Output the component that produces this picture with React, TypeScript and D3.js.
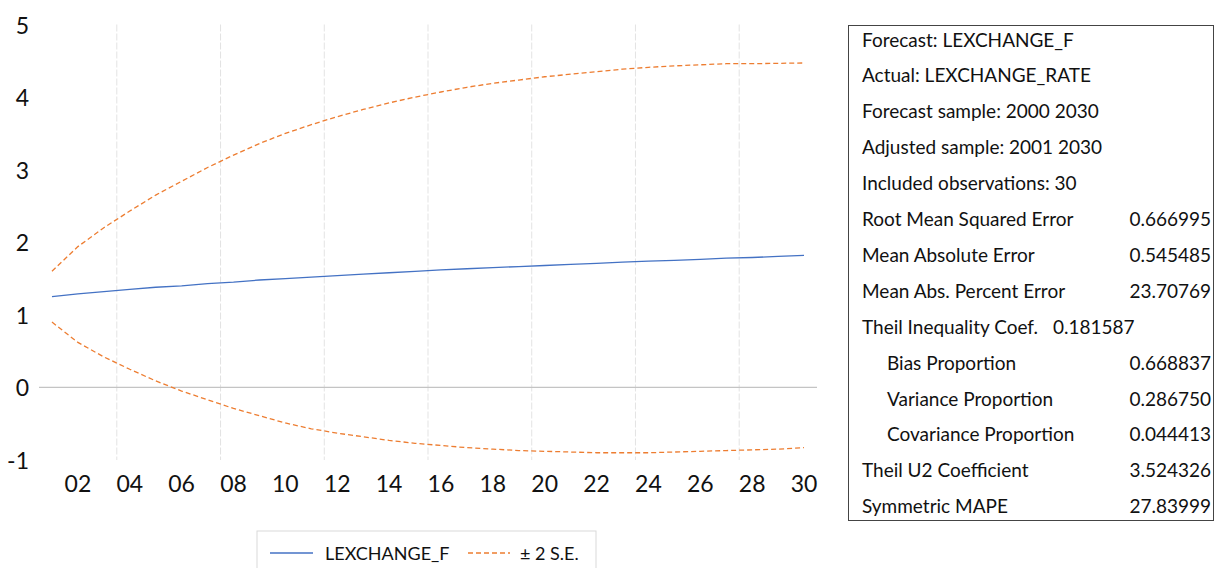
import React from 'react';
import * as d3 from 'd3';

// forecast years (2001 .. 2030), labelled every second year
const YEARS = [
  '2001', '2002', '2003', '2004', '2005', '2006', '2007', '2008', '2009', '2010',
  '2011', '2012', '2013', '2014', '2015', '2016', '2017', '2018', '2019', '2020',
  '2021', '2022', '2023', '2024', '2025', '2026', '2027', '2028', '2029', '2030',
];

const FORECAST = [
  1.25, 1.29, 1.32, 1.35, 1.38, 1.40, 1.43, 1.45, 1.48, 1.50,
  1.52, 1.54, 1.56, 1.58, 1.60, 1.62, 1.635, 1.65, 1.665, 1.68,
  1.695, 1.71, 1.725, 1.74, 1.75, 1.765, 1.78, 1.79, 1.805, 1.82,
];

const UPPER = [
  1.60, 1.94, 2.20, 2.43, 2.65, 2.84, 3.03, 3.20, 3.36, 3.50,
  3.62, 3.73, 3.83, 3.92, 4.00, 4.07, 4.135, 4.19, 4.235, 4.28,
  4.315, 4.35, 4.385, 4.41, 4.43, 4.445, 4.46, 4.46, 4.465, 4.47,
];

const LOWER = [
  0.90, 0.62, 0.42, 0.25, 0.09, -0.05, -0.17, -0.29, -0.39, -0.49,
  -0.57, -0.63, -0.68, -0.73, -0.77, -0.80, -0.83, -0.85, -0.87, -0.88,
  -0.89, -0.90, -0.90, -0.90, -0.89, -0.88, -0.87, -0.86, -0.85, -0.83,
];

const Y_TICKS = [-1, 0, 1, 2, 3, 4, 5];

const STAT_LABELS = [
  'Forecast: LEXCHANGE_F',
  'Actual: LEXCHANGE_RATE',
  'Forecast sample: 2000 2030',
  'Adjusted sample: 2001 2030',
  'Included observations: 30',
  'Root Mean Squared Error',
  'Mean Absolute Error',
  'Mean Abs. Percent Error',
  'Theil Inequality Coef.',
  'Bias Proportion',
  'Variance Proportion',
  'Covariance Proportion',
  'Theil U2 Coefficient',
  'Symmetric MAPE',
];
const STAT_VALUES = [
  '', '', '', '', '',
  '0.666995', '0.545485', '23.70769', '0.181587',
  '0.668837', '0.286750', '0.044413', '3.524326', '27.83999',
];
const SUB_STATS = ['Bias Proportion', 'Variance Proportion', 'Covariance Proportion'];
const INLINE_STAT = 'Theil Inequality Coef.';

const FONT = 'Lato, Roboto, sans-serif';
const BLUE = '#4472C4';
const ORANGE = '#ED7D31';

export default function App() {
  const x = d3.scaleBand<string>().domain(YEARS).range([39, 817]).padding(0);
  const y = d3.scaleLinear().domain([-1, 5]).range([460, 24.5]);
  const bw = x.bandwidth();
  const cx = (i: number) => (x(YEARS[i]) as number) + bw / 2;

  const line = d3.line<number>().x((_, i) => cx(i)).y(d => y(d));

  // vertical grid lines sit on the category boundary after every 4th year
  const gridYears = YEARS.filter((_, i) => i % 4 === 2);

  return (
    <svg width={1222} height={568} style={{ position: 'absolute', left: 0, top: 0, background: '#fff' }} fontFamily={FONT}>
      {gridYears.map(yr => (
        <line key={yr} x1={(x(yr) as number) + bw} x2={(x(yr) as number) + bw} y1={y(5)} y2={y(-1)}
          stroke="#e3e3e3" strokeWidth={1} strokeDasharray="7,2" />
      ))}
      <line x1={39} x2={817} y1={y(0)} y2={y(0)} stroke="#c4c4c4" strokeWidth={1.2} />

      {Y_TICKS.map(t => (
        <text key={t} x={29} y={y(t)} textAnchor="end" dominantBaseline="central" fontSize={23} fill="#111">{t}</text>
      ))}
      {YEARS.map((yr, i) => (+yr % 2 === 0 ? (
        <text key={yr} x={cx(i)} y={483} textAnchor="middle" dominantBaseline="central" fontSize={23} fill="#111">{yr.slice(2)}</text>
      ) : null))}

      <path d={line(UPPER) || ''} fill="none" stroke={ORANGE} strokeWidth={1.3} strokeDasharray="5,3" />
      <path d={line(LOWER) || ''} fill="none" stroke={ORANGE} strokeWidth={1.3} strokeDasharray="5,3" />
      <path d={line(FORECAST) || ''} fill="none" stroke={BLUE} strokeWidth={1.3} />

      {/* legend */}
      <rect x={257} y={531} width={339} height={45} fill="#fff" stroke="#d9d9d9" />
      <line x1={270} x2={313} y1={553} y2={553} stroke={BLUE} strokeWidth={1.3} />
      <text x={325} y={553} dominantBaseline="central" fontSize={18} fill="#111">LEXCHANGE_F</text>
      <line x1={468} x2={510} y1={553} y2={553} stroke={ORANGE} strokeWidth={1.3} strokeDasharray="5,3" />
      <text x={520} y={553} dominantBaseline="central" fontSize={18} fill="#111">± 2 S.E.</text>

      {/* statistics box */}
      <rect x={848.5} y={25.5} width={365} height={495} fill="#fff" stroke="#444" strokeWidth={1} />
      {STAT_LABELS.map((lab, i) => {
        const cy = 39 + i * 35.9;
        const sub = SUB_STATS.includes(lab);
        const inline = lab === INLINE_STAT;
        return (
          <g key={lab}>
            <text x={sub ? 887 : 862} y={cy} dominantBaseline="central" fontSize={19} fill="#111">{lab}</text>
            {STAT_VALUES[i] && (
              <text x={inline ? 1053 : 1211} y={cy} textAnchor={inline ? 'start' : 'end'}
                dominantBaseline="central" fontSize={19} fill="#111">{STAT_VALUES[i]}</text>
            )}
          </g>
        );
      })}
    </svg>
  );
}
